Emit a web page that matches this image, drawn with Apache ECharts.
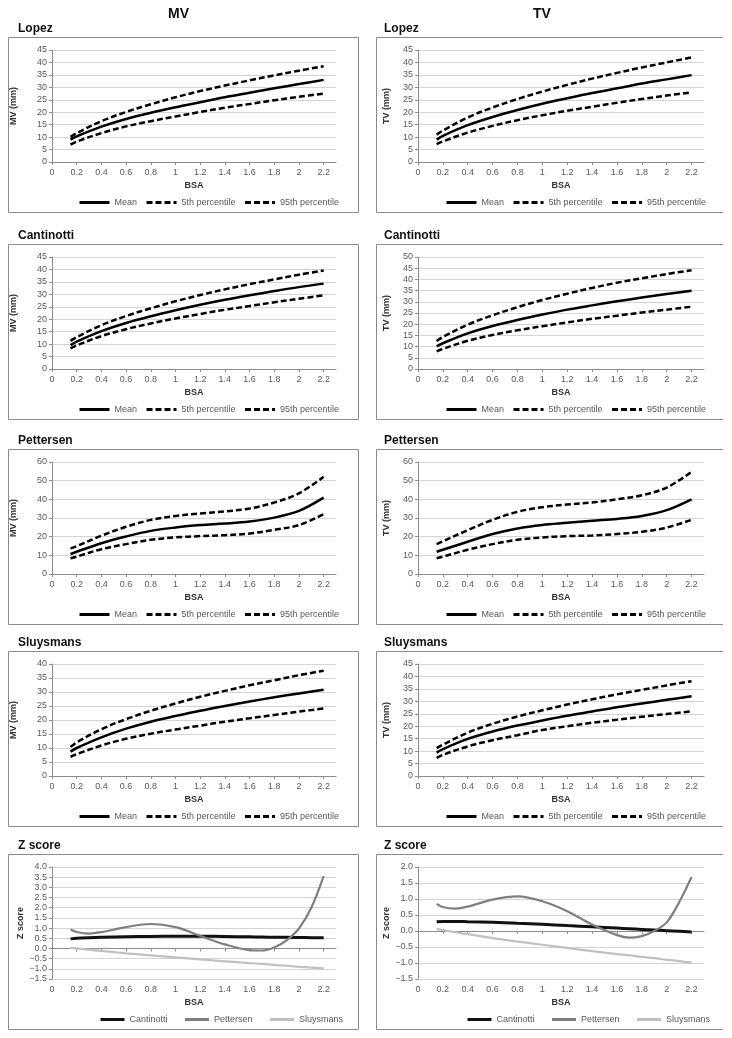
<!DOCTYPE html>
<html>
<head>
<meta charset="utf-8">
<script src="https://cdn.jsdelivr.net/npm/echarts@6/dist/echarts.min.js"></script>
<style>
html,body{margin:0;padding:0;background:#fff;}
#chart{width:732px;height:1038px;}
</style>
</head>
<body>
<div id="chart"></div>
<script>
// ---------- data ----------
const BSA = [0.15, 0.2, 0.4, 0.6, 0.8, 1.0, 1.2, 1.4, 1.6, 1.8, 2.0, 2.2];
const BSA_Z = [0.15, 0.2, 0.3, 0.4, 0.6, 0.8, 1.0, 1.2, 1.4, 1.6, 1.7, 1.8, 1.9, 2.0, 2.1, 2.2];
const xTicks = [0, 0.2, 0.4, 0.6, 0.8, 1, 1.2, 1.4, 1.6, 1.8, 2, 2.2];

const columnTitles = ['MV', 'TV'];
const studyNames = ['Lopez', 'Cantinotti', 'Pettersen', 'Sluysmans'];
const zTitle = 'Z score';
const bandNames = ['Mean', '5th percentile', '95th percentile'];
const zNames = ['Cantinotti', 'Pettersen', 'Sluysmans'];

// MV (mm)
const lopezMV_mean = [9.0, 10.3, 14.2, 17.3, 19.8, 22.0, 24.0, 26.0, 27.8, 29.6, 31.3, 33.0];
const lopezMV_p5   = [7.0, 8.2, 11.6, 14.3, 16.4, 18.3, 20.1, 21.8, 23.3, 24.8, 26.2, 27.5];
const lopezMV_p95  = [10.1, 11.6, 16.4, 20.1, 23.2, 26.0, 28.5, 30.7, 32.8, 34.8, 36.7, 38.5];
const cantMV_mean  = [9.6, 11.0, 15.2, 18.5, 21.2, 23.6, 25.8, 27.8, 29.6, 31.3, 32.9, 34.3];
const cantMV_p5    = [8.3, 9.5, 13.2, 16.0, 18.3, 20.3, 22.1, 23.8, 25.3, 26.8, 28.2, 29.6];
const cantMV_p95   = [11.3, 12.8, 17.6, 21.3, 24.4, 27.2, 29.7, 32.0, 34.1, 36.0, 37.9, 39.6];
const pettMV_mean  = [10.7, 11.9, 16.5, 20.1, 23.1, 24.9, 26.2, 27.0, 28.1, 30.2, 33.8, 40.9];
const pettMV_p5    = [8.4, 9.3, 13.3, 16.0, 18.3, 19.6, 20.3, 20.8, 21.7, 23.7, 26.2, 32.0];
const pettMV_p95   = [13.7, 14.9, 20.5, 25.3, 29.0, 31.1, 32.4, 33.5, 35.1, 38.3, 43.2, 52.1];
const sluyMV_mean  = [8.7, 10.0, 13.8, 16.9, 19.4, 21.4, 23.3, 25.0, 26.6, 28.1, 29.5, 30.8];
const sluyMV_p5    = [6.8, 7.8, 10.9, 13.3, 15.1, 16.6, 18.0, 19.4, 20.6, 21.8, 23.0, 24.1];
const sluyMV_p95   = [10.4, 12.0, 16.7, 20.3, 23.3, 25.9, 28.3, 30.4, 32.4, 34.2, 36.0, 37.6];

// TV (mm)
const lopezTV_mean = [9.0, 10.5, 14.8, 18.1, 20.9, 23.4, 25.6, 27.7, 29.6, 31.5, 33.2, 34.9];
const lopezTV_p5   = [7.2, 8.3, 11.8, 14.5, 16.8, 18.8, 20.6, 22.2, 23.8, 25.3, 26.7, 28.0];
const lopezTV_p95  = [11.0, 12.6, 17.9, 21.9, 25.3, 28.3, 31.0, 33.5, 35.8, 38.0, 40.0, 42.0];
const cantTV_mean  = [10.1, 11.5, 15.9, 19.2, 21.9, 24.3, 26.5, 28.4, 30.2, 31.9, 33.5, 34.9];
const cantTV_p5    = [7.9, 9.0, 12.6, 15.2, 17.3, 19.1, 20.8, 22.4, 23.8, 25.2, 26.5, 27.8];
const cantTV_p95   = [12.5, 14.3, 19.8, 24.0, 27.6, 30.8, 33.6, 36.2, 38.5, 40.5, 42.4, 44.1];
const pettTV_mean  = [11.9, 13.0, 17.3, 21.4, 24.4, 26.3, 27.4, 28.5, 29.5, 31.1, 34.2, 40.0];
const pettTV_p5    = [8.4, 9.3, 13.0, 16.0, 18.3, 19.6, 20.3, 20.6, 21.4, 22.6, 24.9, 29.0];
const pettTV_p95   = [16.0, 17.5, 23.5, 29.0, 33.3, 35.8, 37.2, 38.3, 40.0, 42.2, 46.3, 54.8];
const sluyTV_mean  = [9.4, 10.8, 14.9, 17.9, 20.3, 22.3, 24.2, 25.9, 27.6, 29.1, 30.6, 32.0];
const sluyTV_p5    = [7.3, 8.5, 11.9, 14.4, 16.4, 18.5, 20.0, 21.4, 22.6, 23.8, 24.9, 26.0];
const sluyTV_p95   = [11.2, 12.6, 17.4, 21.0, 23.9, 26.4, 28.7, 30.8, 32.8, 34.6, 36.4, 38.1];

// Z scores
const zMV_cant = [0.47, 0.50, 0.53, 0.55, 0.58, 0.59, 0.60, 0.60, 0.59, 0.57, 0.56, 0.55, 0.545, 0.54, 0.53, 0.52];
const zMV_pett = [0.93, 0.81, 0.73, 0.80, 1.05, 1.20, 1.05, 0.62, 0.20, -0.08, -0.10, 0.05, 0.40, 0.98, 2.00, 3.55];
const zMV_sluy = [0.03, 0.00, -0.06, -0.12, -0.24, -0.34, -0.44, -0.54, -0.63, -0.72, -0.76, -0.81, -0.85, -0.90, -0.94, -0.98];
const zTV_cant = [0.29, 0.30, 0.30, 0.29, 0.27, 0.24, 0.21, 0.17, 0.13, 0.09, 0.07, 0.05, 0.03, 0.01, -0.01, -0.03];
const zTV_pett = [0.85, 0.75, 0.70, 0.76, 0.98, 1.08, 0.93, 0.62, 0.20, -0.13, -0.21, -0.16, 0.00, 0.27, 0.90, 1.69];
const zTV_sluy = [0.06, 0.03, -0.04, -0.10, -0.22, -0.33, -0.43, -0.53, -0.63, -0.72, -0.76, -0.81, -0.85, -0.90, -0.94, -0.99];

// y-axis ranges [min, max, interval]
const yRangesMV = [[0, 45, 5], [0, 45, 5], [0, 60, 10], [0, 40, 5], [-1.5, 4.0, 0.5]];
const yRangesTV = [[0, 45, 5], [0, 50, 5], [0, 60, 10], [0, 45, 5], [-1.5, 2.0, 0.5]];

// ---------- layout ----------
const FONT = '"Liberation Sans", Arial, sans-serif';
const rowTops = [37, 244, 449, 651, 854];
const panelH = 175;
const cols = [
  {boxX: 8, boxR: 358, gridLeft: 52, gridW: 284, nameGap: 34, zNameGap: 27, titleX: 18, headX: 180, legendLeft: 73, zLegendLeft: 94},
  {boxX: 376, boxR: 723, gridLeft: 418, gridW: 286, nameGap: 27, zNameGap: 27, titleX: 384, headX: 545, legendLeft: 440, zLegendLeft: 461}
];

const bandData = [
  [[lopezMV_mean, lopezMV_p5, lopezMV_p95], [cantMV_mean, cantMV_p5, cantMV_p95], [pettMV_mean, pettMV_p5, pettMV_p95], [sluyMV_mean, sluyMV_p5, sluyMV_p95]],
  [[lopezTV_mean, lopezTV_p5, lopezTV_p95], [cantTV_mean, cantTV_p5, cantTV_p95], [pettTV_mean, pettTV_p5, pettTV_p95], [sluyTV_mean, sluyTV_p5, sluyTV_p95]]
];
const zData = [[zMV_cant, zMV_pett, zMV_sluy], [zTV_cant, zTV_pett, zTV_sluy]];
const zColors = ['#111111', '#7f7f7f', '#c0c0c0'];

function pairs(xs, ys) { return xs.map((x, i) => [x, ys[i]]); }

const grid = [], xAxis = [], yAxis = [], series = [], legend = [], graphic = [];
const axisCol = '#8c8c8c', labelCol = '#595959';

// column headers
cols.forEach((c, ci) => {
  graphic.push({type: 'text', left: c.headX - 12, top: 7, style: {text: columnTitles[ci], font: 'bold 14px ' + FONT, fill: '#111'}});
});

let gi = 0;
for (let ci = 0; ci < 2; ci++) {
  const c = cols[ci];
  for (let r = 0; r < 5; r++) {
    const top = rowTops[r];
    const isZ = r === 4;
    // panel border
    if (ci === 0) {
      graphic.push({type: 'rect', shape: {x: c.boxX + 0.5, y: top + 0.5, width: c.boxR - c.boxX, height: panelH}, style: {fill: 'none', stroke: '#8a8a8a', lineWidth: 1}, z: -1});
    } else {
      graphic.push({type: 'polyline', shape: {points: [[c.boxR, top + 0.5], [c.boxX + 0.5, top + 0.5], [c.boxX + 0.5, top + panelH + 0.5], [c.boxR, top + panelH + 0.5]]}, style: {fill: 'none', stroke: '#8a8a8a', lineWidth: 1}, z: -1});
    }
    // panel title
    graphic.push({type: 'text', left: c.titleX, top: top - 14, style: {text: isZ ? zTitle : studyNames[r], font: 'bold 12px ' + FONT, fill: '#111'}});

    grid.push({left: c.gridLeft, top: top + 13, width: c.gridW, height: 112, containLabel: false});
    xAxis.push({
      type: 'value', gridIndex: gi, min: 0, max: 2.3,
      name: 'BSA', nameLocation: 'middle', nameGap: 19,
      nameTextStyle: {fontFamily: FONT, fontWeight: 'bold', fontSize: 9, color: '#333'},
      axisLine: {show: true, lineStyle: {color: axisCol, width: 1}},
      axisTick: {show: true, length: 3, lineStyle: {color: axisCol}, customValues: xTicks},
      axisLabel: {fontFamily: FONT, fontSize: 9, color: labelCol, margin: 6, customValues: xTicks},
      splitLine: {show: false}
    });
    const yr = ci === 0 ? yRangesMV[r] : yRangesTV[r];
    yAxis.push({
      type: 'value', gridIndex: gi, min: yr[0], max: yr[1], interval: yr[2],
      name: isZ ? 'Z score' : (columnTitles[ci] + ' (mm)'), nameLocation: 'middle', nameGap: isZ ? c.zNameGap : c.nameGap,
      nameTextStyle: {fontFamily: FONT, fontWeight: 'bold', fontSize: 9, color: '#333'},
      axisLine: {show: true, lineStyle: {color: axisCol, width: 1}},
      axisTick: {show: true, length: 3, lineStyle: {color: axisCol}},
      axisLabel: {fontFamily: FONT, fontSize: 9, color: labelCol, margin: 5,
        formatter: isZ ? (v => v.toFixed(1).replace('-', '\u2212')) : (v => String(v))},
      splitLine: {show: true, lineStyle: {color: '#d4d4d4', width: 1}}
    });

    if (!isZ) {
      const d = bandData[ci][r];
      bandNames.forEach((nm, k) => {
        series.push({
          type: 'line', name: nm, xAxisIndex: gi, yAxisIndex: gi,
          data: pairs(BSA, d[k]), smooth: 0.35, symbol: 'none', silent: true,
          lineStyle: {color: '#000', width: 2.5, type: k === 0 ? 'solid' : [6, 3]},
          itemStyle: {color: '#000'}
        });
      });
      legend.push({
        data: bandNames, left: c.legendLeft, top: top + panelH - 19,
        itemWidth: 30, itemHeight: 8, itemGap: 8,
        itemStyle: {opacity: 0},
        lineStyle: {width: 3},
        textStyle: {fontFamily: FONT, fontSize: 9, color: labelCol}, selectedMode: false
      });
    } else {
      zNames.forEach((nm, k) => {
        series.push({
          type: 'line', name: nm, xAxisIndex: gi, yAxisIndex: gi,
          data: pairs(BSA_Z, zData[ci][k]), smooth: 0.35, symbol: 'none', silent: true,
          lineStyle: {color: zColors[k], width: k === 0 ? 3 : 2.2},
          itemStyle: {color: zColors[k]}
        });
      });
      legend.push({
        data: zNames, left: c.zLegendLeft, top: top + panelH - 19,
        itemWidth: 24, itemHeight: 8, itemGap: 16,
        itemStyle: {opacity: 0},
        lineStyle: {width: 3},
        textStyle: {fontFamily: FONT, fontSize: 9, color: labelCol}, selectedMode: false
      });
    }
    gi++;
  }
}

const chart = echarts.init(document.getElementById('chart'), null, {renderer: 'canvas'});
chart.setOption({
  animation: false,
  backgroundColor: '#fff',
  grid, xAxis, yAxis, series, legend, graphic
});
</script>
</body>
</html>
